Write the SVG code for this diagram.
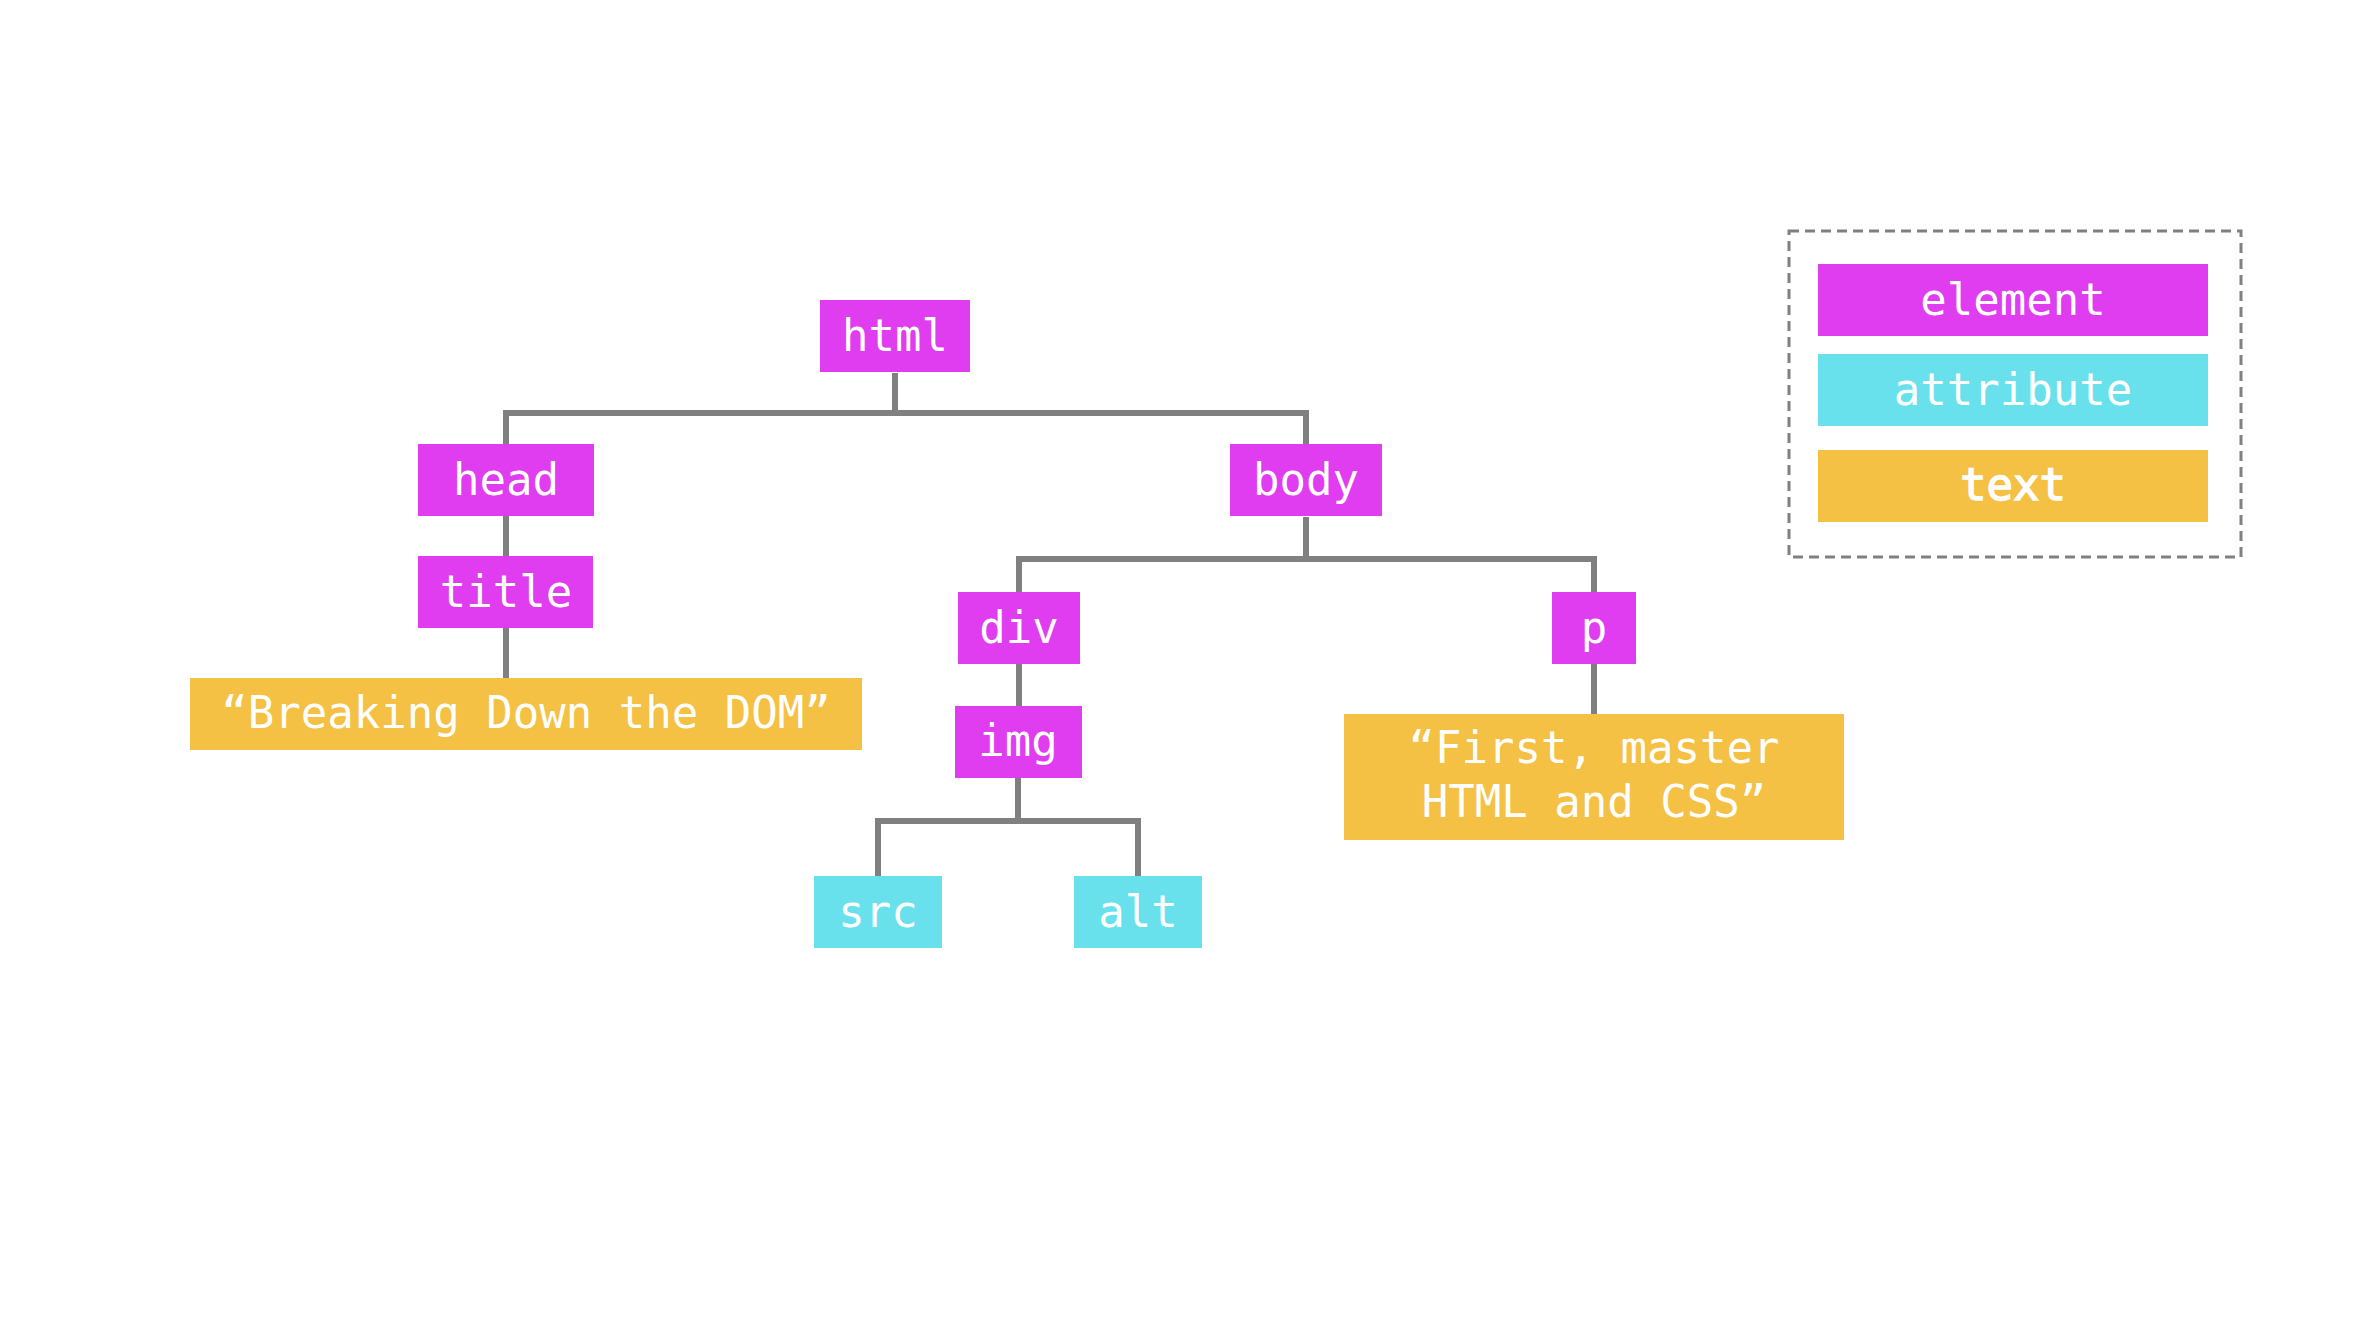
<svg xmlns="http://www.w3.org/2000/svg" width="2365" height="1318" viewBox="0 0 2365 1318">
<style>
.el{fill:#E03CF0}
.at{fill:#69E1EC}
.tx{fill:#F5C145}
.lbl{font-family:"DejaVu Sans Mono","Liberation Mono",monospace;font-size:44px;fill:#FFFFFF;text-anchor:middle}
.semi{stroke:#FFFFFF;stroke-width:1.4}
.con{fill:none;stroke:#808080;stroke-width:6;stroke-linejoin:miter;stroke-linecap:butt}
</style>
<rect width="2365" height="1318" fill="#FFFFFF"/>
<g id="connectors">
<path class="con" d="M895,373 V413"/>
<path class="con" d="M506,444 V413 H1306 V444"/>
<path class="con" d="M506,516 V556"/>
<path class="con" d="M506,628 V678"/>
<path class="con" d="M1306,517 V559"/>
<path class="con" d="M1019,592 V559 H1594 V592"/>
<path class="con" d="M1019,664 V706"/>
<path class="con" d="M1018,778 V821"/>
<path class="con" d="M878,876 V821 H1138 V876"/>
<path class="con" d="M1594,664 V714"/>
</g>
<g id="html"><rect class="el" x="820" y="300" width="150" height="72"/><text class="lbl" x="895" y="351">html</text></g>
<g id="head"><rect class="el" x="418" y="444" width="176" height="72"/><text class="lbl" x="506" y="495">head</text></g>
<g id="body"><rect class="el" x="1230" y="444" width="152" height="72"/><text class="lbl" x="1306" y="495">body</text></g>
<g id="title"><rect class="el" x="418" y="556" width="175" height="72"/><text class="lbl" x="506" y="607">title</text></g>
<g id="title-text"><rect class="tx" x="190" y="678" width="672" height="72"/><text class="lbl" x="526" y="728">“Breaking Down the DOM”</text></g>
<g id="div"><rect class="el" x="958" y="592" width="122" height="72"/><text class="lbl" x="1019" y="643">div</text></g>
<g id="p"><rect class="el" x="1552" y="592" width="84" height="72"/><text class="lbl" x="1594" y="643">p</text></g>
<g id="img"><rect class="el" x="955" y="706" width="127" height="72"/><text class="lbl" x="1018" y="756">img</text></g>
<g id="src"><rect class="at" x="814" y="876" width="128" height="72"/><text class="lbl" x="878" y="927">src</text></g>
<g id="alt"><rect class="at" x="1074" y="876" width="128" height="72"/><text class="lbl" x="1138" y="927">alt</text></g>
<g id="p-text"><rect class="tx" x="1344" y="714" width="500" height="126"/><text class="lbl" x="1594" y="763">“First, master</text><text class="lbl" x="1594" y="817">HTML and CSS”</text></g>
<g id="legend">
<rect x="1789" y="231" width="452" height="326" fill="none" stroke="#808080" stroke-width="3" stroke-dasharray="10,6"/>
<rect class="el" x="1818" y="264" width="390" height="72"/><text class="lbl" x="2013" y="315">element</text>
<rect class="at" x="1818" y="354" width="390" height="72"/><text class="lbl" x="2013" y="405">attribute</text>
<rect class="tx" x="1818" y="450" width="390" height="72"/><text class="lbl semi" x="2013" y="500">text</text>
</g>
</svg>
